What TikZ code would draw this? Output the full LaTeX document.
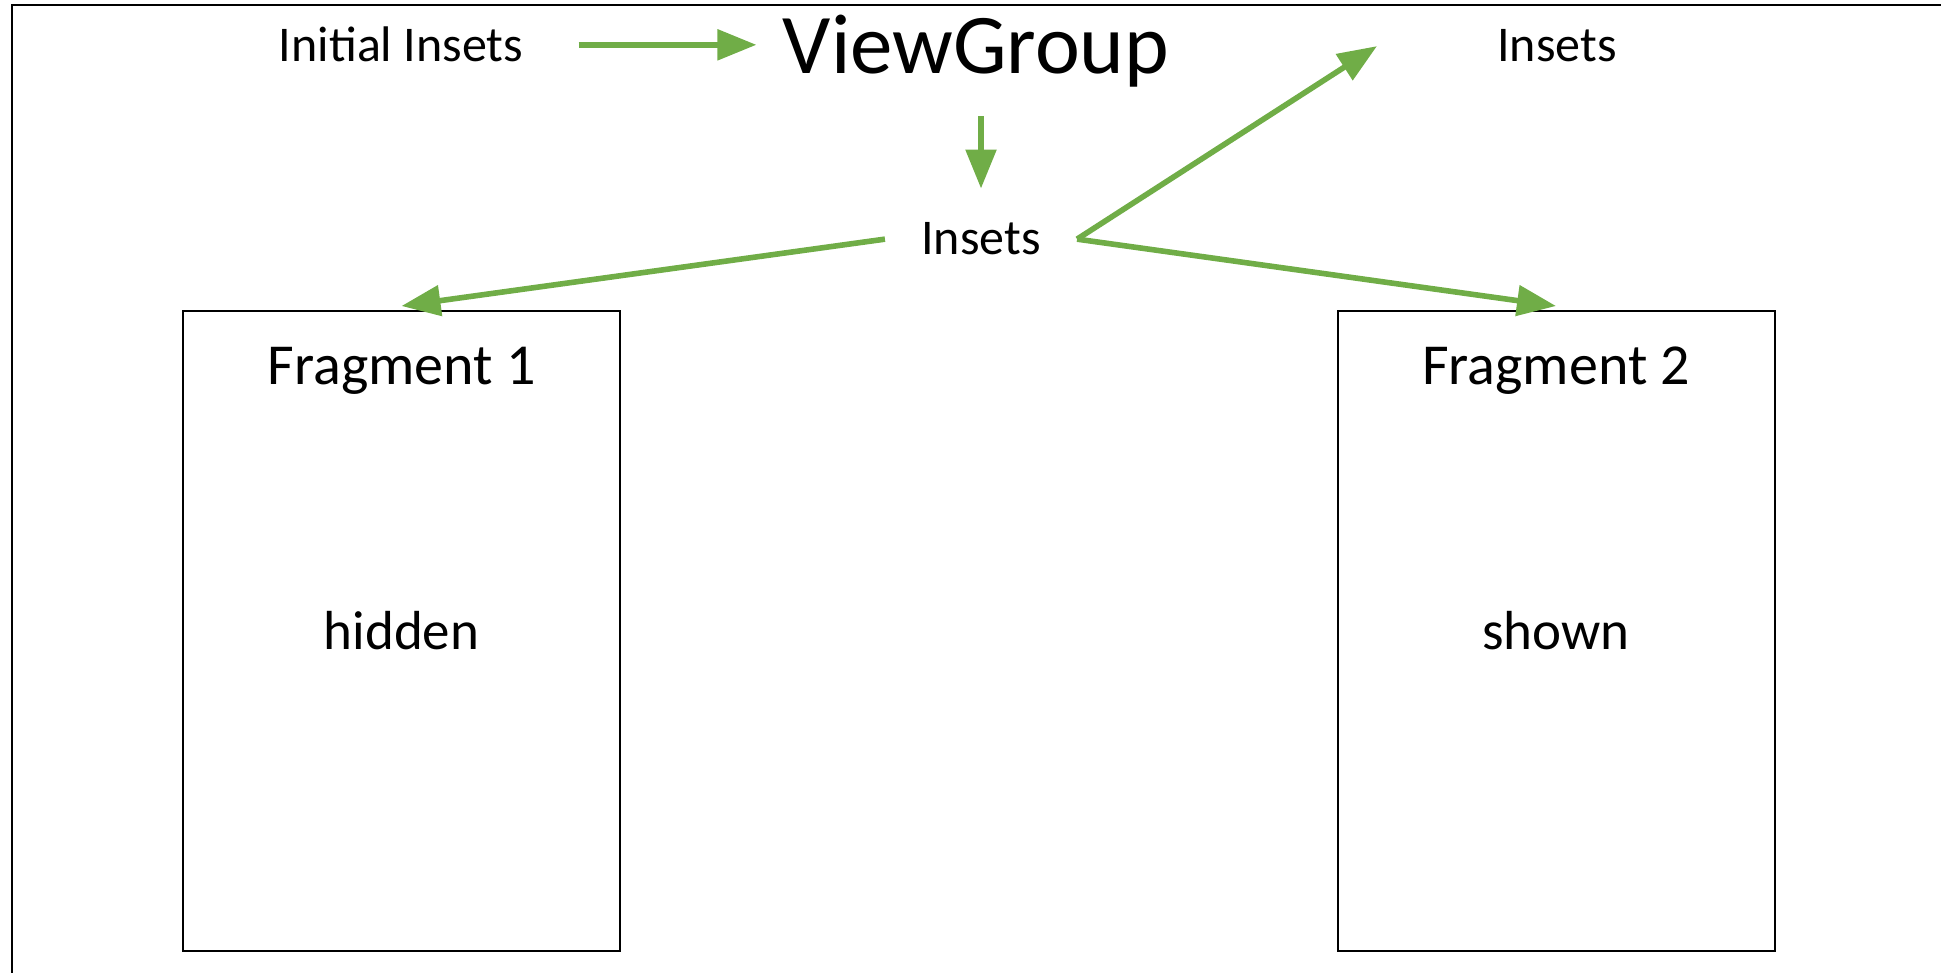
\documentclass[tikz,border=0pt]{standalone}
\usepackage{fontspec}
\setmainfont{Carlito}
\usetikzlibrary{arrows.meta}
\definecolor{arrowgreen}{HTML}{70AD47}
\begin{document}
\begin{tikzpicture}[x=0.5pt,y=-0.5pt,
  txt/.style={font=\fontsize{25}{30}\selectfont, inner sep=0pt},
  bigtxt/.style={font=\fontsize{42.5}{50}\selectfont, inner sep=0pt},
  fragtxt/.style={font=\fontsize{29}{35}\selectfont, inner sep=0pt},
  bodytxt/.style={font=\fontsize{27.5}{33}\selectfont, inner sep=0pt},
  fragbox/.style={draw=black, line width=1pt, minimum width=218.5pt, minimum height=320pt, inner sep=0pt},
  arr/.style={draw=arrowgreen, line width=2.8pt, -{Triangle[length=19.5pt,width=15pt]}}]
\useasboundingbox (0,0) rectangle (1941,973);
\clip (0,0) rectangle (1941,973);

% outer frame (only its left and top edges fall inside the page)
\draw[line width=1pt] (11.5,1000) -- (11.5,5.5) -- (1980,5.5);

% labels
\node[txt, anchor=base] (init) at (401,62) {Initial Insets};
\node[bigtxt, anchor=base] (vg) at (976,74) {ViewGroup};
\node[txt, anchor=base] (ins2) at (1557,62) {Insets};
\node[txt, anchor=base, inner xsep=18pt] (mid) at (981,255) {Insets};

% fragments
\node[fragbox] (f1) at (401.5,631) {};
\node[fragbox] (f2) at (1556,631) {};
\node[fragtxt, anchor=base] (f1t) at ([yshift=-37pt]f1.north) {Fragment 1};
\node[bodytxt, anchor=base] (f1b) at ([yshift=-169.5pt]f1.north) {hidden};
\node[fragtxt, anchor=base] (f2t) at ([yshift=-37pt]f2.north) {Fragment 2};
\node[bodytxt, anchor=base] (f2b) at ([yshift=-169.5pt]f2.north) {shown};

% connectors
\draw[arr] ([xshift=27.5pt]init.east) -- ([xshift=-13pt]init.east -| vg.west);
\draw[arr] ([yshift=-14pt]vg.south -| mid.north) -- ([yshift=17pt]mid.north);
\draw[arr] (mid.east) -- ([xshift=-60pt]ins2.west);
\draw[arr] (mid.west) -- ([yshift=2pt]f1.north);
\draw[arr] (mid.east) -- ([yshift=2pt]f2.north);
\end{tikzpicture}
\end{document}
